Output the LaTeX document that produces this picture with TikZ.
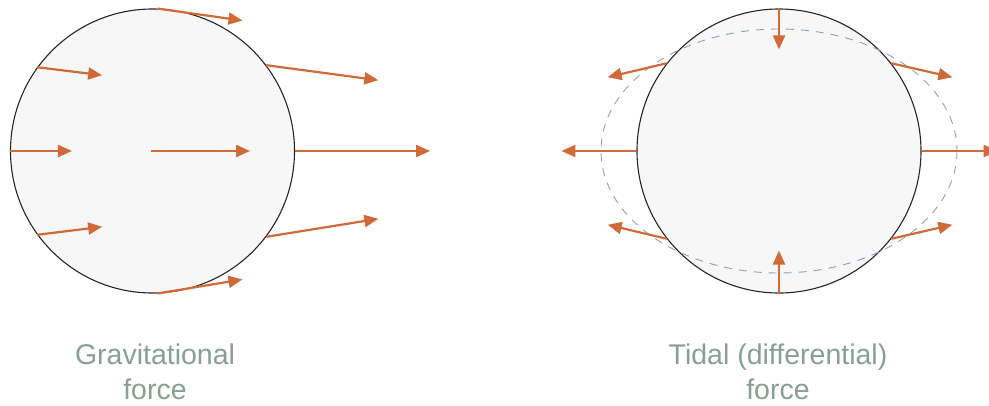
\documentclass[tikz,border=0pt]{standalone}
\usepackage{fontspec}
\setmainfont{Liberation Sans}
\usetikzlibrary{arrows.meta}
\definecolor{pull}{RGB}{208,106,56}
\definecolor{body}{RGB}{247,247,247}
\definecolor{caption}{RGB}{134,160,146}
\definecolor{bulge}{RGB}{140,162,178}
\tikzset{
  planet/.style={circle, draw=black!85, line width=1.1pt, fill=body, minimum size=284pt, inner sep=0pt},
  force/.style={draw=pull, line width=2.2pt, -{Triangle[length=14pt,width=12pt]}},
  label/.style={text=caption, align=center, font=\fontsize{28.5}{35}\selectfont},
}
\begin{document}
\begin{tikzpicture}[x=1pt,y=-1pt]
\useasboundingbox (0,0) rectangle (989,405);

% Gravitational force: every point pulled the same way
\node[planet] (L) at (152.5,151) {};
\coordinate (Lc) at (151,151);
\draw[force] (L.88) -- ++(85,12);
\draw[force] (L.144) -- ++(65,8);
\draw[force] (L.37) -- ++(112,15);
\draw[force] (L.west) -- ++(62,0);
\draw[force] (Lc) -- ++(99,0);
\draw[force] (L.east) -- ++(135,0);
\draw[force] (L.216) -- ++(65,-8);
\draw[force] (L.323) -- ++(112,-18);
\draw[force] (L.272) -- ++(85,-14);
\node[label] (Lt) at (155,372) {Gravitational\\force};

% Tidal force: what is left after the mean pull is removed
\node[planet] (R) at (779,151) {};
\draw[bulge, line width=0.9pt, dash pattern=on 8pt off 7pt] (R.center) ellipse [x radius=178, y radius=122];
\draw[force] (R.north) -- ++(0,41);
\draw[force] (R.south) -- ++(0,-43);
\draw[force] (R.west) -- ++(-75,0);
\draw[force] (R.east) -- ++(76,0);
\draw[force] (R.142) -- ++(-59,14);
\draw[force] (R.38) -- ++(61,14);
\draw[force] (R.218) -- ++(-59,-14);
\draw[force] (R.322) -- ++(61,-14);
\node[label] (Rt) at (778,372) {Tidal (differential)\\force};
\end{tikzpicture}
\end{document}
